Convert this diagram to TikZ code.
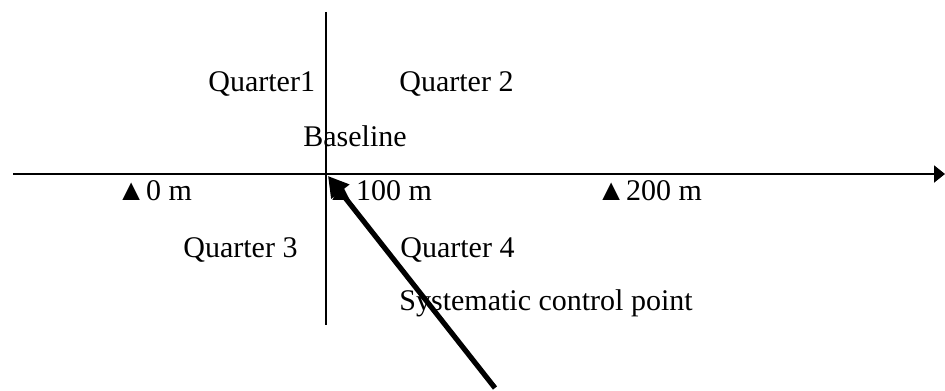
\documentclass[tikz,border=0pt]{standalone}
\usepackage{fontspec}
\setmainfont{Liberation Serif}
\usetikzlibrary{arrows.meta, positioning}
\tikzset{
  axisLine/.style={-{Triangle[length=5.5pt, width=8.5pt]}, black, line width=1pt},
  gridLine/.style={black, line width=0.8pt},
  pointer/.style={-{Triangle[length=10pt, width=11pt]}, black, line width=2.6pt},
  lbl/.style={anchor=base west, inner sep=0pt, font=\fontsize{15}{18}\selectfont},
}
\begin{document}
\begin{tikzpicture}[x=0.5pt, y=-0.5pt]
    \useasboundingbox (0,0) rectangle (945,390);
    % axes
    \coordinate (w) at (13,174);
    \coordinate (e) at (945,174);
    \coordinate (top) at (326,12);
    \coordinate (bot) at (326,325);
    \draw[axisLine] (w) -- (e);
    \draw[gridLine] (top) -- (bot);
    % quarters
    \node[lbl] (q1) at (208,91) {Quarter1};
    \node[lbl] (q2) at (399,91) {Quarter 2};
    \node[lbl] (q3) at (183,257) {Quarter 3};
    \node[lbl] (q4) at (400,257) {Quarter 4};
    \node[lbl] (base) at (303,146) {Baseline};
    % stations
    \node[lbl] (s0) at (116,200) {▲0 m};
    \node[lbl] (s100) at (326,200) {▲100 m};
    \node[lbl] (s200) at (596,200) {▲200 m};
    \node[lbl] (scp) at (399,310) {Systematic control point};
    \coordinate (tail) at (495,388);
    \coordinate (tip) at (328,176);
    \draw[pointer] (tail) -- (tip);
  \end{tikzpicture}
\end{document}
